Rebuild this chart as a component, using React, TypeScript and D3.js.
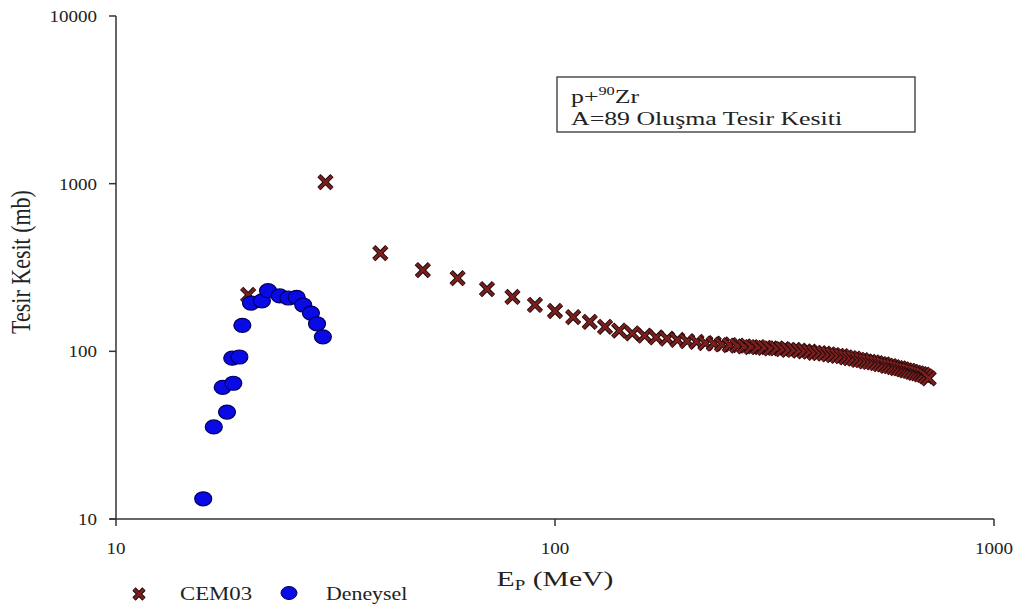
import React from "react";
import * as d3 from "d3";

const cemEnergy = [20, 30, 40, 50, 60, 70, 80, 90, 100, 110, 120, 130, 140, 150, 160, 170, 180, 190, 200, 210, 220, 230, 240, 250, 260, 270, 280, 290, 300, 310, 320, 330, 340, 350, 360, 370, 380, 390, 400, 410, 420, 430, 440, 450, 460, 470, 480, 490, 500, 510, 520, 530, 540, 550, 560, 570, 580, 590, 600, 610, 620, 630, 640, 650, 660, 670, 680, 690, 700, 710];
const cemSigma = [217, 1020, 385, 305, 273, 235, 211, 189, 174, 160, 150, 140, 133, 128, 124, 121, 119, 117, 115, 114, 112, 111, 110, 109, 108, 107, 106, 106, 105, 104, 104, 103, 102, 102, 101, 100, 99.5, 98, 97.5, 97, 96, 95, 94, 93.5, 92, 91, 90.5, 89, 88.5, 87, 86.5, 86, 85, 84, 83.5, 82, 81.5, 80.5, 79.5, 79, 78, 77, 76.5, 75.5, 74.5, 74, 73, 72.5, 71, 69];

const expEnergy = [15.8, 16.7, 17.9, 17.5, 18.5, 18.4, 19.1, 19.4, 20.3, 21.5, 22.2, 23.6, 24.7, 25.8, 26.7, 27.8, 28.7, 29.6];
const expSigma = [13.2, 35.4, 43.4, 61, 64.5, 91, 92.5, 143, 194, 200, 230, 214, 208, 210, 189, 169, 146, 122];

const xTicks = [10, 100, 1000];
const yTicks = [10, 100, 1000, 10000];
const legendLabels = ["CEM03", "Deneysel"];

const W = 1029;
const H = 612;
const FONT = "'Liberation Serif', 'Times New Roman', serif";
const CROSS_FILL = "#7a1e1e";
const DOT_FILL = "#0a0ae6";
const TXT = "#222";

function T({ x, y, size, sx = 1.3, anchor = "start", children }: any) {
  return (
    <text transform={`translate(${x},${y}) scale(${sx},1)`} textAnchor={anchor} fontSize={size} fill={TXT}>
      {children}
    </text>
  );
}

function Cross({ cx, cy, s = 6.5 }: { cx: number; cy: number; s?: number }) {
  const d = `M${cx - s},${cy - s}L${cx + s},${cy + s}M${cx - s},${cy + s}L${cx + s},${cy - s}`;
  return (
    <g>
      <path d={d} stroke="#1a0a0a" strokeWidth={4.6} fill="none" />
      <path d={d} stroke={CROSS_FILL} strokeWidth={2.8} fill="none" />
    </g>
  );
}

export default function App() {
  const x = d3.scaleLog().domain([10, 1000]).range([116, 994]);
  const y = d3.scaleLog().domain([10, 10000]).range([519, 16]);
  const x0 = x.range()[0];
  const x1 = x.range()[1];
  const yb = y.range()[0];
  const yt = y.range()[1];

  return (
    <svg width={W} height={H} style={{ position: "absolute", left: 0, top: 0, background: "#fff" }} fontFamily={FONT}>
      {/* axes */}
      <line x1={x0} x2={x0} y1={yt} y2={yb + 0.5} stroke="#333" strokeWidth={1.5} />
      <line x1={x0 - 6} x2={x1} y1={yb} y2={yb} stroke="#333" strokeWidth={1.5} />
      {yTicks.map((t) => (
        <g key={"y" + t}>
          <line x1={x0 - 7} x2={x0} y1={y(t)} y2={y(t)} stroke="#333" strokeWidth={1.5} />
          <T x={x0 - 19} y={y(t) + 6} size={17} sx={1.12} anchor="end">
            {t}
          </T>
        </g>
      ))}
      {xTicks.map((t) => (
        <g key={"x" + t}>
          <line x1={x(t)} x2={x(t)} y1={yb} y2={yb + 7} stroke="#333" strokeWidth={1.5} />
          <T x={x(t)} y={yb + 35} size={17} sx={1.12} anchor="middle">
            {t}
          </T>
        </g>
      ))}
      {/* axis titles */}
      <T x={555} y={586} size={22} sx={1.35} anchor="middle">
        E<tspan fontSize={14} dy={4}>P</tspan>
        <tspan dy={-4}> (MeV)</tspan>
      </T>
      <text transform={`translate(30,262) scale(1.2,1) rotate(-90)`} textAnchor="middle" fontSize={22} fill={TXT}>
        Tesir Kesit (mb)
      </text>

      {/* CEM03 crosses */}
      {cemEnergy.map((e, i) => (
        <Cross key={"c" + i} cx={x(e)} cy={y(cemSigma[i])} />
      ))}
      {/* experimental dots */}
      {expEnergy.map((e, i) => (
        <ellipse key={"d" + i} cx={x(e)} cy={y(expSigma[i])} rx={8.5} ry={7} fill={DOT_FILL} stroke="#00005a" strokeWidth={1.2} />
      ))}

      {/* annotation box */}
      <rect x={557} y={77} width={358} height={55} fill="#fff" stroke="#333" strokeWidth={1.3} />
      <T x={571} y={103} size={19} sx={1.36}>
        p+<tspan fontSize={12} dy={-8}>90</tspan>
        <tspan dy={8}>Zr</tspan>
      </T>
      <T x={571} y={125} size={19} sx={1.36}>
        A=89 Oluşma Tesir Kesiti
      </T>

      {/* legend */}
      <Cross cx={139} cy={594} s={5} />
      <T x={180} y={600} size={19} sx={1.2}>{legendLabels[0]}</T>
      <ellipse cx={289} cy={593} rx={8} ry={6.5} fill={DOT_FILL} stroke="#00005a" strokeWidth={1} />
      <T x={326} y={600} size={19} sx={1.15}>{legendLabels[1]}</T>
    </svg>
  );
}
